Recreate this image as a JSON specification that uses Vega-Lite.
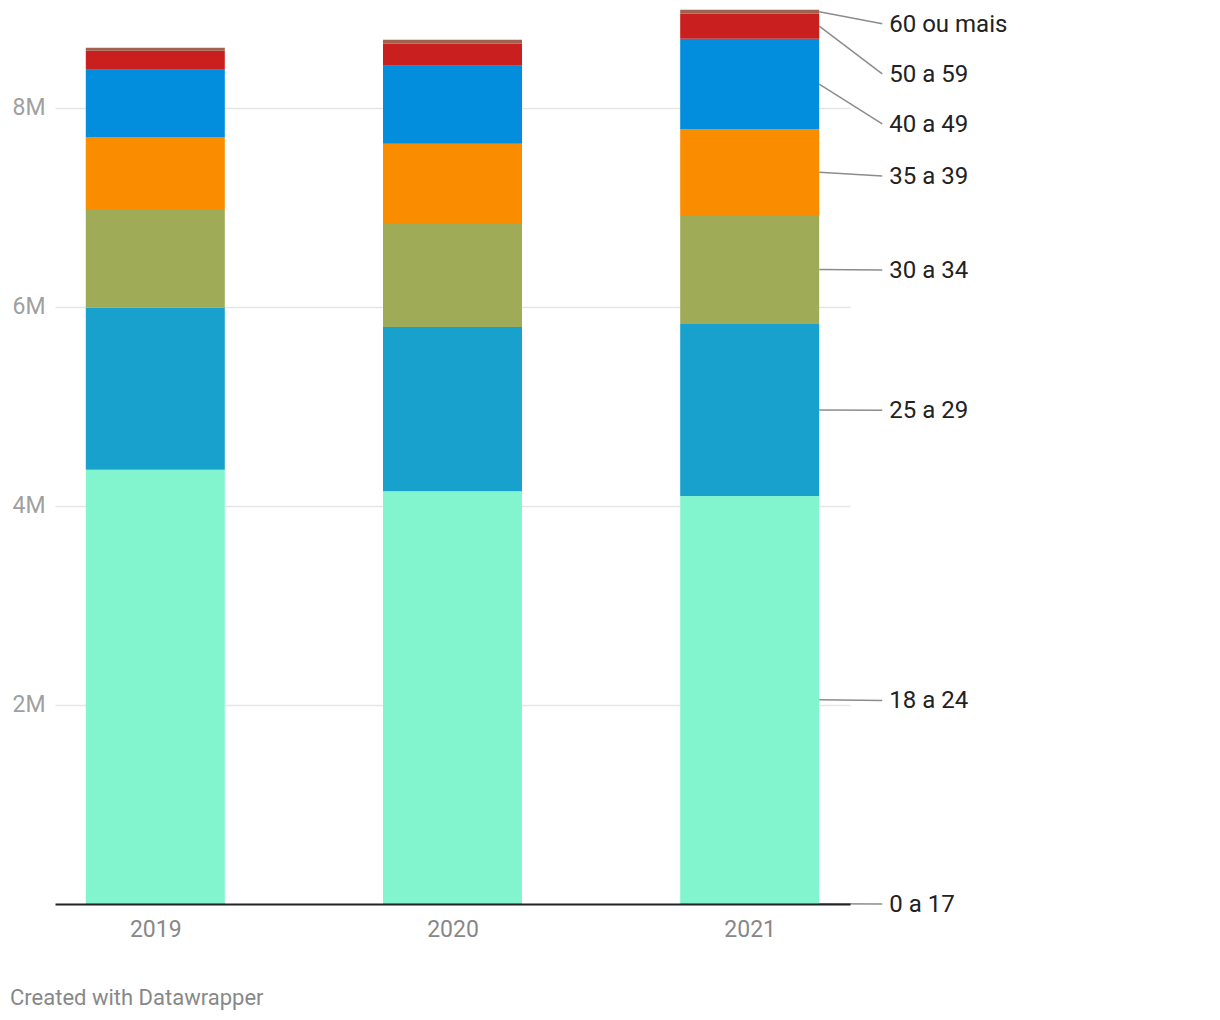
{
  "$schema": "https://vega.github.io/schema/vega-lite/v6.json",
  "width": 795,
  "height": 896,
  "padding": {"left": 10, "top": 8, "right": 10, "bottom": 10},
  "autosize": {"type": "pad"},
  "background": "white",
  "config": {"font": "Roboto", "view": {"stroke": null}},
  "title": {
    "text": "Created with Datawrapper",
    "orient": "bottom",
    "anchor": "start",
    "frame": "group",
    "dx": -45,
    "offset": 47,
    "fontSize": 22,
    "fontWeight": "normal",
    "color": "#888888",
    "font": "Roboto"
  },
  "datasets": {
    "pop": [
      {"year": 2019, "group": "0 a 17", "value": 5000},
      {"year": 2019, "group": "18 a 24", "value": 4358000},
      {"year": 2019, "group": "25 a 29", "value": 1629000},
      {"year": 2019, "group": "30 a 34", "value": 990000},
      {"year": 2019, "group": "35 a 39", "value": 717000},
      {"year": 2019, "group": "40 a 49", "value": 680000},
      {"year": 2019, "group": "50 a 59", "value": 191000},
      {"year": 2019, "group": "60 ou mais", "value": 30000},
      {"year": 2020, "group": "0 a 17", "value": 5000},
      {"year": 2020, "group": "18 a 24", "value": 4142000},
      {"year": 2020, "group": "25 a 29", "value": 1649000},
      {"year": 2020, "group": "30 a 34", "value": 1035000},
      {"year": 2020, "group": "35 a 39", "value": 805000},
      {"year": 2020, "group": "40 a 49", "value": 784000},
      {"year": 2020, "group": "50 a 59", "value": 221000},
      {"year": 2020, "group": "60 ou mais", "value": 40000},
      {"year": 2021, "group": "0 a 17", "value": 5000},
      {"year": 2021, "group": "18 a 24", "value": 4092000},
      {"year": 2021, "group": "25 a 29", "value": 1729000},
      {"year": 2021, "group": "30 a 34", "value": 1096000},
      {"year": 2021, "group": "35 a 39", "value": 857000},
      {"year": 2021, "group": "40 a 49", "value": 912000},
      {"year": 2021, "group": "50 a 59", "value": 252000},
      {"year": 2021, "group": "60 ou mais", "value": 40000}
    ],
    "labels": [
      {"group": "0 a 17", "labelAt": 0},
      {"group": "18 a 24", "labelAt": 2045000},
      {"group": "25 a 29", "labelAt": 4960000},
      {"group": "30 a 34", "labelAt": 6368000},
      {"group": "35 a 39", "labelAt": 7313000},
      {"group": "40 a 49", "labelAt": 7836000},
      {"group": "50 a 59", "labelAt": 8339000},
      {"group": "60 ou mais", "labelAt": 8842000}
    ]
  },
  "layer": [
    {
      "data": {"name": "pop"},
      "mark": {"type": "bar", "width": 139},
      "encoding": {
        "x": {
          "field": "year",
          "type": "quantitative",
          "scale": {"domain": [2018.6625, 2021.3375], "nice": false, "zero": false, "padding": 0},
          "axis": {
            "values": [2019, 2020, 2021],
            "format": "d",
            "title": null,
            "labelFontSize": 23,
            "labelColor": "#888888",
            "labelPadding": 14,
            "ticks": false,
            "grid": false,
            "domain": true,
            "domainColor": "#222222",
            "domainWidth": 2,
            "zindex": 1
          }
        },
        "y": {
          "field": "value",
          "type": "quantitative",
          "stack": "zero",
          "scale": {"domain": [0, 9000000], "nice": false},
          "axis": {
            "values": [2000000, 4000000, 6000000, 8000000],
            "format": "~s",
            "title": null,
            "labelFontSize": 23,
            "labelColor": "#a0a0a0",
            "labelPadding": 10,
            "ticks": false,
            "domain": false,
            "grid": true,
            "gridColor": "#e5e5e5",
            "gridWidth": 1.5
          }
        },
        "color": {
          "field": "group",
          "type": "nominal",
          "scale": {
            "domain": ["0 a 17", "18 a 24", "25 a 29", "30 a 34", "35 a 39", "40 a 49", "50 a 59", "60 ou mais"],
            "range": ["#15607a", "#82f5ce", "#18a1cd", "#9fab57", "#fa8c00", "#028ddd", "#c91f1f", "#a0614f"]
          },
          "legend": null
        },
        "order": {"field": "group", "sort": "ascending"}
      }
    },
    {
      "data": {"name": "pop"},
      "transform": [
        {"filter": "datum.year == 2021"},
        {"stack": "value", "groupby": ["year"], "sort": [{"field": "group", "order": "ascending"}], "as": ["v0", "v1"]},
        {"calculate": "(datum.v0 + datum.v1) / 2", "as": "mid"},
        {"lookup": "group", "from": {"data": {"name": "labels"}, "key": "group", "fields": ["labelAt"]}}
      ],
      "mark": {"type": "rule", "color": "#8c8c8c", "strokeWidth": 1.5},
      "encoding": {
        "x": {"datum": 2021.234, "type": "quantitative"},
        "x2": {"datum": 2021.446},
        "y": {"field": "mid", "type": "quantitative", "title": null},
        "y2": {"field": "labelAt"}
      }
    },
    {
      "data": {"name": "labels"},
      "mark": {"type": "text", "align": "left", "baseline": "middle", "dx": 7, "dy": 1, "fontSize": 24, "color": "#222222", "font": "Roboto"},
      "encoding": {
        "x": {"datum": 2021.446, "type": "quantitative"},
        "y": {"field": "labelAt", "type": "quantitative", "title": null},
        "text": {"field": "group", "type": "nominal"}
      }
    }
  ]
}
